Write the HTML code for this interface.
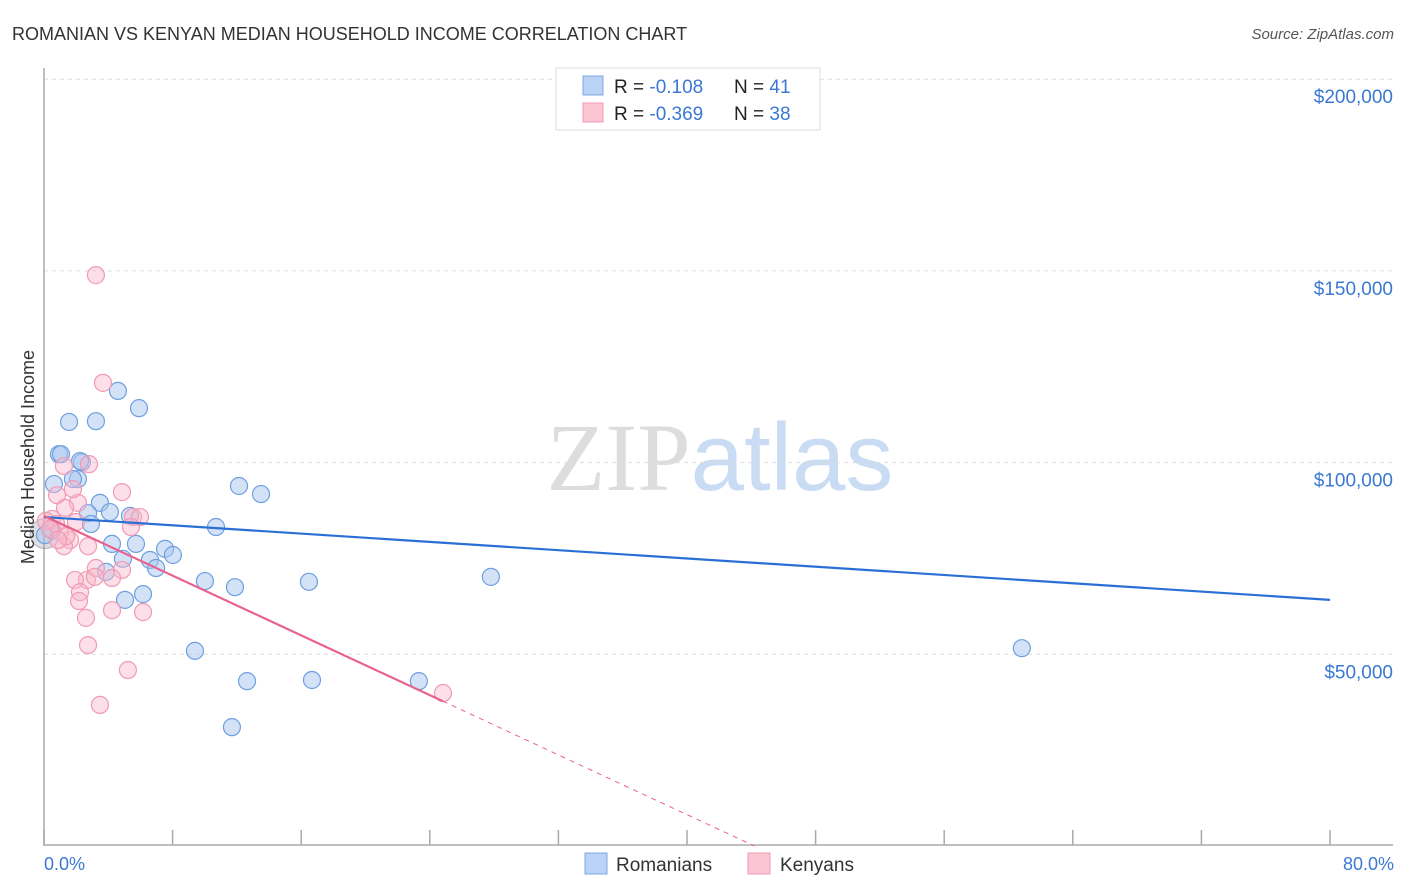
<!DOCTYPE html>
<html><head><meta charset="utf-8"><style>
body{margin:0;background:#fff;font-family:"Liberation Sans",sans-serif;}
svg{display:block}
text{font-family:"Liberation Sans",sans-serif}
</style></head><body>
<svg id="chart" width="1406" height="892" xmlns="http://www.w3.org/2000/svg">
<text x="12" y="40" font-size="18" fill="#333">ROMANIAN VS KENYAN MEDIAN HOUSEHOLD INCOME CORRELATION CHART</text>
<text x="1394" y="39" font-size="15" fill="#555" text-anchor="end" font-style="italic">Source: ZipAtlas.com</text>
<text x="720" y="490" font-size="96" text-anchor="middle"><tspan fill="#ddd" font-family="Liberation Serif">ZIP</tspan><tspan fill="#c9dcf3">atlas</tspan></text>
<g id="grid"></g>
<g id="axes"></g>
<g id="marks"></g>
<g id="trends"></g>
<text transform="translate(34,457) rotate(-90)" font-size="18" fill="#333" text-anchor="middle">Median Household Income</text>
<text x="44" y="870" font-size="18" fill="#3a78d4">0.0%</text>
<text x="1394" y="870" font-size="18" fill="#3a78d4" text-anchor="end">80.0%</text>
<g>
<rect x="556" y="68" width="264" height="62" fill="#fff" stroke="#ddd"/>
<rect x="583" y="76" width="20" height="19" fill="#b9d2f5" stroke="#7fa8e4"/>
<rect x="583" y="103" width="20" height="19" fill="#fbc5d4" stroke="#f09ab3"/>
<text x="614" y="93" font-size="19" fill="#222">R = <tspan fill="#3a78d4">-0.108</tspan><tspan x="734">N = </tspan><tspan fill="#3a78d4">41</tspan></text>
<text x="614" y="120" font-size="19" fill="#222">R = <tspan fill="#3a78d4">-0.369</tspan><tspan x="734">N = </tspan><tspan fill="#3a78d4">38</tspan></text>
</g>
<g>
<rect x="585" y="853" width="22" height="21" fill="#b9d2f5" stroke="#7fa8e4"/>
<text x="616" y="871" font-size="19" fill="#333">Romanians</text>
<rect x="748" y="853" width="22" height="21" fill="#fbc5d4" stroke="#f09ab3"/>
<text x="780" y="871" font-size="19" fill="#333">Kenyans</text>
</g>
</svg>
<script>
const yTicks=[50000,100000,150000,200000];
const yTickLabels=["$50,000","$100,000","$150,000","$200,000"];
const romX=[0.93,1.56,3.23,4.6,5.91,2.36,2.11,1.8,3.48,4.1,2.74,2.92,0.62,0.5,5.35,4.23,5.72,6.59,7.53,8.02,6.97,4.91,5.04,6.16,3.86,10.7,12.13,13.5,10.01,11.88,16.48,27.8,9.39,12.63,16.67,23.32,11.69,60.83,2.24,1.06,0.06];
const romY=[102.2,110.6,110.8,118.7,114.2,100.1,95.7,95.7,89.5,87.1,86.8,84.0,94.4,82.4,86.1,78.8,78.8,74.6,77.5,75.9,72.5,74.9,64.2,65.7,71.5,83.2,93.9,91.8,69.1,67.5,68.9,70.2,50.9,43.0,43.3,43.0,31.0,51.6,100.4,102.2,81.1];
const kenX=[3.23,3.67,1.24,2.8,0.81,2.11,4.85,1.31,0.5,0.75,5.54,5.97,1.99,1.0,1.62,1.24,2.74,5.41,2.67,1.93,4.85,3.23,4.23,2.24,2.18,4.23,6.16,2.61,2.74,5.22,3.48,24.82,0.12,0.37,3.17,1.8,1.37,0.87];
const kenY=[148.9,120.8,99.1,99.6,91.5,89.5,92.3,88.2,85.3,84.0,85.8,85.8,84.5,81.9,79.8,78.2,78.2,83.2,69.4,69.4,72.0,72.5,69.9,66.2,63.9,61.5,61.0,59.5,52.4,45.9,36.8,39.9,84.8,82.7,70.2,93.1,80.8,79.8];
const romTrend=[85.8,64.2]; // value at 0% and 80%
const kenTrend=[86.1,0,24.8,44.2]; // intercept, zero, solid-end x, zero-cross x
const X=p=>44+p/80*1286;
const Y=k=>846-k*1000/50000*191.7;
const NS="http://www.w3.org/2000/svg";
function mk(tag,attrs,parent){const e=document.createElementNS(NS,tag);for(const k in attrs)e.setAttribute(k,attrs[k]);parent.appendChild(e);return e;}
const grid=document.getElementById('grid'),axes=document.getElementById('axes'),marks=document.getElementById('marks'),trends=document.getElementById('trends');
yTicks.forEach((t,i)=>{
 const l=mk('line',{x1:44,x2:1393,y1:Y(t/1000),y2:Y(t/1000),stroke:'#ddd','stroke-dasharray':'4,4'},grid);
 
 
 const tx=mk('text',{x:1393,y:Y(t/1000)+24,'font-size':19,fill:'#3a78d4','text-anchor':'end'},grid);
 tx.textContent=yTickLabels[i];
 
 
});
mk('line',{x1:44,x2:44,y1:68,y2:846,stroke:'#aaa','stroke-width':1.5},axes);
mk('line',{x1:44,x2:1393,y1:845,y2:845,stroke:'#aaa','stroke-width':1.5},axes);
for(let i=0;i<=10;i++){const tk=mk('line',{x1:X(i*8),x2:X(i*8),y1:830,y2:845,stroke:'#aaa','stroke-width':1.5},axes);
 
 }
const big=mk('circle',{cx:X(0.06),cy:Y(81.5),r:15,fill:'rgba(160,160,180,0.35)',stroke:'rgba(120,120,160,0.5)'},marks);


romX.forEach((x,i)=>{const c=mk('circle',{cx:X(x),cy:Y(romY[i]),r:8.5,fill:'rgba(168,198,240,0.5)',stroke:'#6e9fe0','stroke-width':1.2},marks);
 
 });
kenX.forEach((x,i)=>{const c=mk('circle',{cx:X(x),cy:Y(kenY[i]),r:8.5,fill:'rgba(248,184,204,0.45)',stroke:'#f09ab3','stroke-width':1.2},marks);
 
 });
const rl=mk('line',{x1:X(0),y1:Y(romTrend[0]),x2:X(80),y2:Y(romTrend[1]),stroke:'#2a6fd6','stroke-width':2.2},trends);


const slope=(kenTrend[1]-kenTrend[0])/kenTrend[3];
const kl=mk('line',{x1:X(0),y1:Y(kenTrend[0]),x2:X(kenTrend[2]),y2:Y(kenTrend[0]+slope*kenTrend[2]),stroke:'#e8628c','stroke-width':2.2},trends);


const kd=mk('line',{x1:X(kenTrend[2]),y1:Y(kenTrend[0]+slope*kenTrend[2]),x2:X(kenTrend[3]),y2:Y(0),stroke:'#e8628c','stroke-width':1,'stroke-dasharray':'5,5'},trends);


</script>
</body></html>
